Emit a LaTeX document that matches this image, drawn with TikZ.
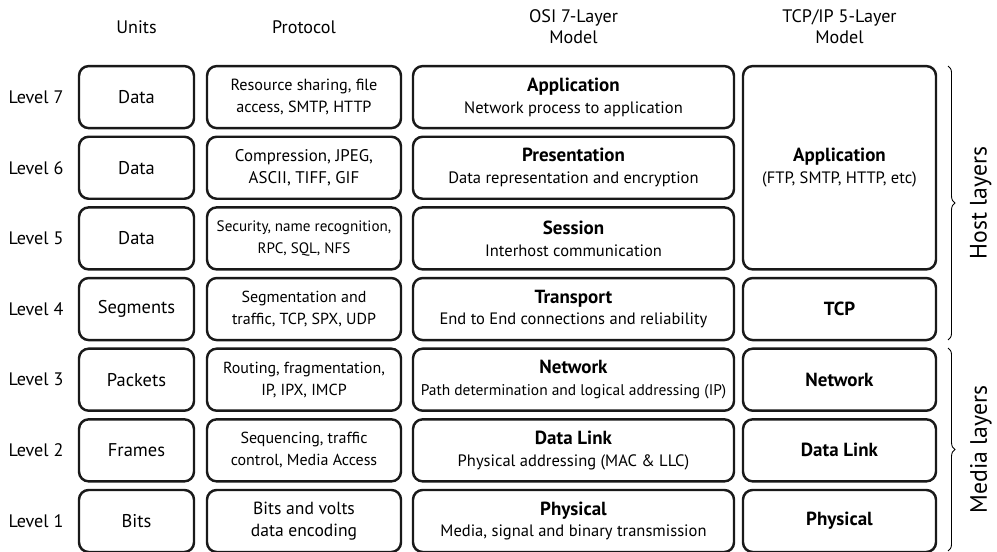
\documentclass[tikz,border=0pt]{standalone}
\usepackage{fontspec}
\setmainfont{PT Sans}
\usepackage{tikz}
\usetikzlibrary{decorations.pathreplacing}

\newcommand{\ttl}[1]{{\fontsize{10.8}{12.5}\selectfont\textbf{#1}}}

\begin{document}
\begin{tikzpicture}
	\useasboundingbox (0,0) rectangle (19.94,11.02);

	% headings and level labels
	\begin{scope}[every node/.style={align=center, font=\fontsize{10.3}{12}\selectfont}]
		\node (hunits) at (2.73,10.48) {Units};
		\node (hproto) at (6.08,10.48) {Protocol};
		\node (hosi) at (11.47,10.48) {OSI 7-Layer\\Model};
		\node (htcp) at (16.79,10.48) {TCP/IP 5-Layer\\Model};
		\node (l7) at (0.72,9.078) {Level 7};
		\node (l6) at (0.72,7.665) {Level 6};
		\node (l5) at (0.72,6.252) {Level 5};
		\node (l4) at (0.72,4.839) {Level 4};
		\node (l3) at (0.72,3.426) {Level 3};
		\node (l2) at (0.72,2.013) {Level 2};
		\node (l1) at (0.72,0.600) {Level 1};
	\end{scope}

	% layer boxes
	\begin{scope}[every node/.style={draw=black!90, line width=1.4pt, rounded corners=5.5pt,
	              minimum height=1.24cm, inner sep=1pt, align=center,
	              font=\fontsize{9.4}{12.5}\selectfont},
	              unit/.style={minimum width=2.30cm, font=\fontsize{10.5}{12.5}\selectfont},
	              proto/.style={minimum width=3.88cm, font=\fontsize{9.1}{12.5}\selectfont},
	              osi/.style={minimum width=6.42cm},
	              tcp/.style={minimum width=3.86cm}]
		\node[unit] (u7) at (2.73,9.078) {Data};
		\node[unit] (u6) at (2.73,7.665) {Data};
		\node[unit] (u5) at (2.73,6.252) {Data};
		\node[unit] (u4) at (2.73,4.839) {Segments};
		\node[unit] (u3) at (2.73,3.426) {Packets};
		\node[unit] (u2) at (2.73,2.013) {Frames};
		\node[unit] (u1) at (2.73,0.600) {Bits};

		\node[proto, font=\fontsize{9.2}{12.5}\selectfont] (p7) at (6.08,9.078) {Resource sharing, file\\access, SMTP, HTTP};
		\node[proto, font=\fontsize{9.6}{12.5}\selectfont] (p6) at (6.08,7.665) {Compression, JPEG,\\ASCII, TIFF, GIF};
		\node[proto, font=\fontsize{8.6}{12.5}\selectfont] (p5) at (6.08,6.252) {Security, name recognition,\\RPC, SQL, NFS};
		\node[proto] (p4) at (6.08,4.839) {Segmentation and\\traffic, TCP, SPX, UDP};
		\node[proto] (p3) at (6.08,3.426) {Routing, fragmentation,\\IP, IPX, IMCP};
		\node[proto] (p2) at (6.08,2.013) {Sequencing, traffic\\control, Media Access};
		\node[proto, font=\fontsize{10}{12.5}\selectfont] (p1) at (6.08,0.600) {Bits and volts\\data encoding};

		\node[osi] (o7) at (11.47,9.078) {\ttl{Application}\\Network process to application};
		\node[osi] (o6) at (11.47,7.665) {\ttl{Presentation}\\Data representation and encryption};
		\node[osi] (o5) at (11.47,6.252) {\ttl{Session}\\Interhost communication};
		\node[osi] (o4) at (11.47,4.839) {\ttl{Transport}\\End to End connections and reliability};
		\node[osi, font=\fontsize{8.8}{12.5}\selectfont] (o3) at (11.47,3.426) {\ttl{Network}\\Path determination and logical addressing (IP)};
		\node[osi] (o2) at (11.47,2.013) {\ttl{Data Link}\\Physical addressing (MAC \& LLC)};
		\node[osi] (o1) at (11.47,0.600) {\ttl{Physical}\\Media, signal and binary transmission};

		\node[tcp, minimum height=4.066cm] (t5) at (16.79,7.665) {\ttl{Application}\\(FTP, SMTP, HTTP, etc)};
		\node[tcp] (t4) at (16.79,4.839) {\ttl{TCP}};
		\node[tcp] (t3) at (16.79,3.426) {\ttl{Network}};
		\node[tcp] (t2) at (16.79,2.013) {\ttl{Data Link}};
		\node[tcp] (t1) at (16.79,0.600) {\ttl{Physical}};
	\end{scope}

	% host / media braces
	\coordinate (hosttop) at (18.96,9.70);
	\coordinate (hostbot) at (18.96,4.22);
	\coordinate (mediatop) at (18.96,4.06);
	\coordinate (mediabot) at (18.96,0.0);
	\draw[decorate, decoration={brace, amplitude=4pt}, line width=0.5pt] (hosttop) -- (hostbot)
		node[midway, right=9pt, rotate=90, anchor=north, font=\fontsize{13.5}{16}\selectfont] (host) {Host layers};
	\draw[decorate, decoration={brace, amplitude=4pt}, line width=0.5pt] (mediatop) -- (mediabot)
		node[midway, right=9pt, rotate=90, anchor=north, font=\fontsize{13.5}{16}\selectfont] (media) {Media layers};
\end{tikzpicture}
\end{document}
